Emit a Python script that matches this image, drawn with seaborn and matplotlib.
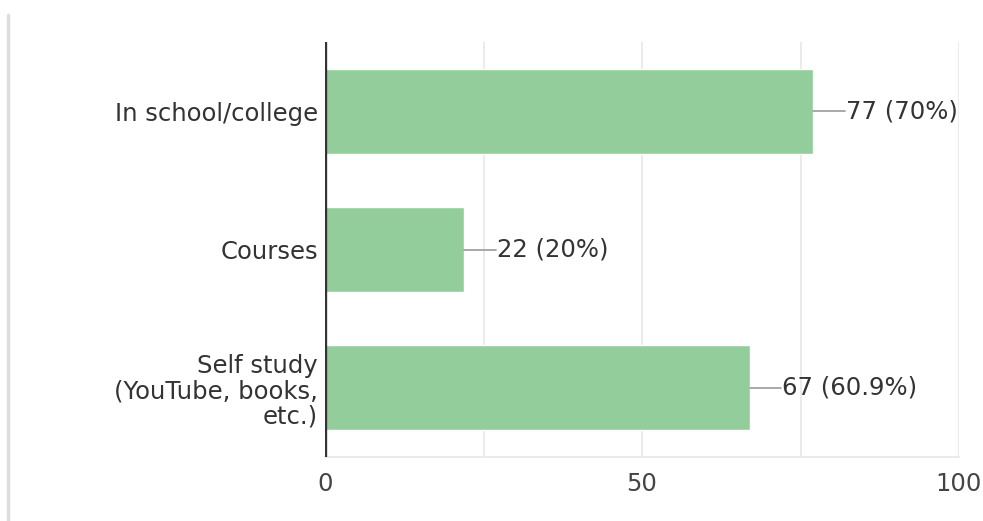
import matplotlib
matplotlib.use("Agg")
import matplotlib.pyplot as plt
import seaborn as sns
import pandas as pd
from matplotlib.lines import Line2D

categories = ["In school/college", "Courses", "Self study\n(YouTube, books,\netc.)"]
counts = [77, 22, 67]
labels = ["77 (70%)", "22 (20%)", "67 (60.9%)"]
xticks = [0, 50, 100]

df = pd.DataFrame({"category": categories, "count": counts})

sns.set_theme(style="white")
plt.rcParams["font.family"] = ["DejaVu Sans"]

FS = 17.5
fig = plt.figure(figsize=(9.83, 5.21), dpi=100)
ax = fig.add_axes([325 / 983, 1 - 457 / 521, (959 - 325) / 983, (457 - 42) / 521])

sns.barplot(data=df, x="count", y="category", orient="h", color="#93cd9b",
            width=0.615, saturation=1, ax=ax, zorder=2)

ax.set_xlim(0, 100)
ax.set_ylim(2.5, -0.5)
for g in [25, 50, 75, 100]:
    ax.axvline(g, color="#e8e8e8", lw=1.2, zorder=0)
ax.axhline(2.5, color="#e8e8e8", lw=1.2, zorder=0, clip_on=False)
ax.axvline(0, color="#333333", lw=2.4, zorder=3)

for i, (v, lab) in enumerate(zip(counts, labels)):
    ax.plot([v, v + 5], [i, i], color="#9a9a9a", lw=1.2, zorder=3, clip_on=False)
    ax.text(v + 5.1, i, lab, va="center", ha="left", fontsize=FS, color="#333333",
            zorder=4, clip_on=False)

ax.set_xticks(xticks)
ax.set_xticklabels([str(t) for t in xticks], fontsize=FS, color="#444444")
ax.tick_params(axis="x", length=0, pad=11)
ax.tick_params(axis="y", length=0, pad=5)
for t in ax.get_yticklabels():
    t.set_fontsize(FS)
    t.set_color("#333333")
    t.set_multialignment("right")
    t.set_linespacing(1.08)
ax.set_xlabel("")
ax.set_ylabel("")
for s in ax.spines.values():
    s.set_visible(False)

fig.add_artist(Line2D([8 / 983, 8 / 983], [0, 1 - 15 / 521], color="#dddddd", lw=2.5))

fig.savefig("out.png", dpi=100, facecolor="white")
